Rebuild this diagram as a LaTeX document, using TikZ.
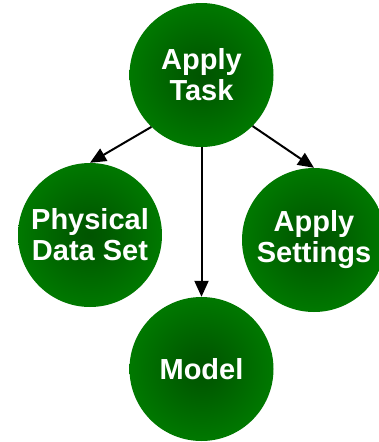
\documentclass[tikz,border=0pt]{standalone}
\usepackage{fontspec}
\setmainfont{Liberation Sans}
\usetikzlibrary{arrows.meta}
\definecolor{leafgreen}{HTML}{008000}
\definecolor{deepgreen}{HTML}{005400}
\pgfdeclareradialshading{greenglow}{\pgfpoint{0bp}{0bp}}{%
  color(0bp)=(deepgreen); color(6bp)=(deepgreen!85!leafgreen);
  color(30bp)=(leafgreen); color(50bp)=(leafgreen)}
\tikzset{
  bubble/.style={circle, minimum size=144pt, inner sep=0pt,
    shading=greenglow, text=white, align=center,
    font=\fontsize{29pt}{31pt}\selectfont\bfseries},
  link/.style={draw=black, line width=2pt,
    -{Triangle[length=16pt,width=14pt]}}
}
\begin{document}
\begin{tikzpicture}[x=1pt,y=-1pt]
  \useasboundingbox[fill=white] (0,0) rectangle (379,442);
  \node[bubble] (task)     at (201.5,75)  {Apply\\Task};
  \node[bubble] (physical) at (90,235)    {Physical\\Data Set};
  \node[bubble] (settings) at (314,240)   {Apply\\Settings};
  \node[bubble] (model)    at (201.5,369) {Model};
  \draw[link] (task.226) -- (physical.north);
  \draw[link] (task.south) -- (model.north);
  \draw[link] (task.315) -- (settings.north);
\end{tikzpicture}
\end{document}
